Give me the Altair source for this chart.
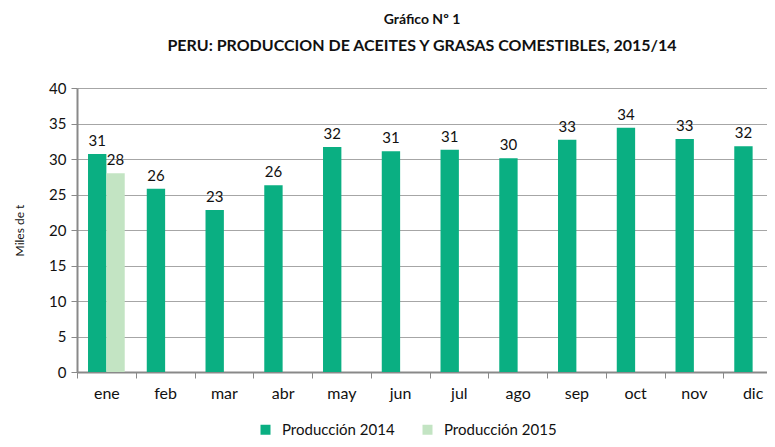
import altair as alt
import pandas as pd

meses = ["ene", "feb", "mar", "abr", "may", "jun", "jul", "ago", "sep", "oct", "nov", "dic"]
prod_2014 = [30.7, 25.8, 22.8, 26.3, 31.7, 31.1, 31.3, 30.1, 32.7, 34.4, 32.8, 31.8]
meses_2015 = ["ene"]
prod_2015 = [28.0]
series = ["Producción 2014", "Producción 2015"]
colores = ["#0aaf82", "#c3e4c3"]

rows = [{"mes": m, "serie": series[0], "valor": v} for m, v in zip(meses, prod_2014)]
rows += [{"mes": m, "serie": series[1], "valor": v} for m, v in zip(meses_2015, prod_2015)]
df = pd.DataFrame(rows)

FONT = "Lato"
W = 690      # visible plot width (clipped near the page edge like the reference)
XR = 705     # full band range, last band partly cut off
H = 284

x_enc = alt.X(
    "mes:N", sort=meses,
    scale=alt.Scale(paddingInner=0, paddingOuter=0, range=[0, XR]),
    axis=alt.Axis(title=None, tickBand="extent", labelAngle=0,
                  labelFontSize=16, labelPadding=7, tickSize=6, tickColor="#898989",
                  domainColor="#898989", domainWidth=2, labelColor="#111111"),
)
xo_enc = alt.XOffset("serie:N", sort=series, scale=alt.Scale(paddingInner=0, paddingOuter=0.6))
y_enc = alt.Y(
    "valor:Q", scale=alt.Scale(domain=[0, 40]),
    axis=alt.Axis(title="Miles de t", values=list(range(0, 45, 5)), labelFontSize=15,
                  labelPadding=5, titleFontSize=12, titleFontWeight="normal", titlePadding=22,
                  tickSize=6, tickColor="#898989", domainColor="#898989", domainWidth=2,
                  gridColor="#a6a6a6", gridWidth=1, labelColor="#111111", titleColor="#111111"),
)

base = alt.Chart(df).encode(x=x_enc, xOffset=xo_enc, y=y_enc)

bars = base.mark_bar().encode(
    color=alt.Color("serie:N", sort=series, scale=alt.Scale(domain=series, range=colores),
                    legend=alt.Legend(title=None, orient="none", direction="horizontal",
                                      legendX=181, legendY=H + 50, padding=0,
                                      symbolType="square", symbolSize=100, symbolStrokeWidth=0,
                                      labelFontSize=15, columnPadding=25, labelOffset=9,
                                      labelColor="#111111")),
)

labels = base.mark_text(dy=-8, baseline="alphabetic", fontSize=15, color="#111111",
                        font=FONT).encode(
    text=alt.Text("valor:Q", format=".0f"),
)

chart = alt.layer(bars, labels).properties(
    width=W, height=H,
    autosize=alt.AutoSizeParams(type="none"),
    padding={"left": 69, "top": 80, "right": 0, "bottom": 67},
    title=alt.TitleParams(
        text="Gráfico Nº 1",
        subtitle="PERU: PRODUCCION DE ACEITES Y GRASAS COMESTIBLES,  2015/14",
        fontSize=14, fontWeight="bold", subtitleFontSize=16, subtitleFontWeight="bold",
        subtitlePadding=11, offset=27, anchor="middle", font=FONT, subtitleFont=FONT,
        color="#111111", subtitleColor="#111111",
    ),
).configure(font=FONT).configure_view(stroke=None).configure_axis(labelFont=FONT, titleFont=FONT)

chart.save("out.html", embed_options={"renderer": "svg", "actions": False})
